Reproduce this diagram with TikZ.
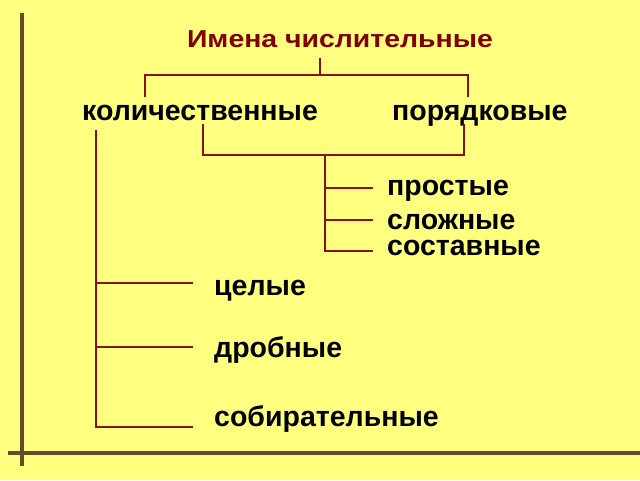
\documentclass[tikz,border=0pt]{standalone}
\usepackage{fontspec}
\setmainfont{Liberation Sans}
\usetikzlibrary{positioning}
\definecolor{bgyellow}{RGB}{255,255,128}
\definecolor{framebrown}{RGB}{104,74,40}
\definecolor{linered}{RGB}{140,16,16}
\definecolor{titlered}{RGB}{128,0,0}

\begin{document}
\begin{tikzpicture}[
          x=1pt, y=-1pt,
          word/.style={anchor=base west, inner sep=0pt, font=\bfseries\fontsize{28.5}{32}\selectfont},
          title/.style={anchor=base, inner sep=0pt, text=titlered, font=\bfseries\fontsize{24.5}{30}\selectfont},
          branch/.style={draw=linered, line width=2.2pt},
          frame/.style={draw=framebrown, line width=4.5pt}
        ]
        \fill[bgyellow] (0,0) rectangle (640,480);
        \useasboundingbox (0,0) rectangle (640,480);
        \draw[frame] (22,13) -- (22,466);
        \draw[frame] (8,453) -- (640,453);

        \node[title] (root) at (340,47) {\scalebox{1.16}[1]{Имена числительные}};
        \node[word] (kol) at (82,120) {количественные};
        \node[word] (por) at (392,120) {порядковые};
        \node[word] (pro) at (387,195) {простые};
        \node[word] (slo) at (387,229) {сложные};
        \node[word] (sos) at (387,255) {составные};
        \node[word] (cel) at (214,295) {целые};
        \node[word] (dro) at (214,357) {дробные};
        \node[word] (sob) at (214,426) {собирательные};

        % first bracket
        \coordinate (r0) at (320,58);
        \coordinate (rj) at (320,75);
        \coordinate (r1) at (145,97);
        \coordinate (r2) at (468,97);
        \draw[branch] (r0) -- (rj);
        \draw[branch] (r1) |- (rj) -| (r2);

        % second bracket
        \coordinate (k1) at (203,124);
        \coordinate (p1) at (464,124);
        \coordinate (kj) at (325,155);
        \draw[branch] (k1) |- (kj) -| (p1);
        \foreach \y/\n in {188/1, 220/2, 251/3}
          \coordinate (e\n) at (373,\y);
        \foreach \n in {1,2,3}
          \draw[branch] (kj) |- (e\n);

        % left branch
        \coordinate (q0) at (96,130);
        \foreach \y/\n in {283/1, 347/2, 427/3}
          \coordinate (f\n) at (193,\y);
        \foreach \n in {1,2,3}
          \draw[branch] (q0) |- (f\n);
\end{tikzpicture}
\end{document}
